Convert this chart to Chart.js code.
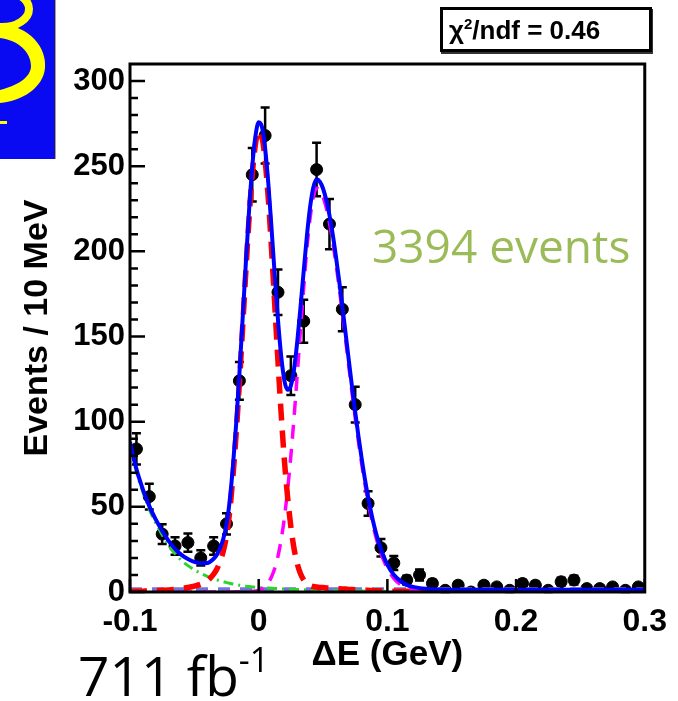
<!DOCTYPE html>
<html>
<head>
<meta charset="utf-8">
<title>ΔE fit</title>
<script src="https://cdn.jsdelivr.net/npm/chart.js@4.4.1/dist/chart.umd.min.js"></script>
<style>
  html, body { margin: 0; padding: 0; background: #fff; }
  #wrap { position: relative; width: 678px; height: 701px; overflow: hidden; }
  #plot { position: absolute; left: 0; top: 0; }
  .logo { position: absolute; left: 0; top: 0; }
  .chi2 {
    position: absolute; left: 440px; top: 7px; width: 200px; height: 39px;
    border: 3px solid #000; background: #fff; box-shadow: 1px 2px 0 #333;
    font: bold 26px "Liberation Sans", Arial, sans-serif; line-height: 40px;
    padding-left: 6px; box-sizing: content-box; white-space: nowrap;
  }
  .chi2 sup { font-size: 15px; line-height: 0; }
  .events {
    position: absolute; left: 372px; top: 222px; color: #9bbb59;
    font: 46px "Open Sans", sans-serif; line-height: 46px; white-space: nowrap;
  }
  .lumi {
    position: absolute; left: 78px; top: 647px; color: #000;
    font: 55px "Open Sans", sans-serif; line-height: 55px; white-space: nowrap;
  }
  .lumi sup { font-size: 34px; line-height: 0; vertical-align: 24px; }
</style>
</head>
<body>
<div id="wrap">
  <canvas id="plot" width="678" height="701"></canvas>
  <svg class="logo" width="58" height="162">
    <rect x="0" y="0" width="55" height="159" fill="#0a0af2"/>
    <line x1="55.5" y1="0" x2="55.5" y2="159" stroke="#b8a830" stroke-width="1"/>
    <ellipse cx="2" cy="9" rx="27" ry="18" fill="none" stroke="#ffff00" stroke-width="8"/>
    <path d="M0 24 C 30 26, 47 48, 45 68 C 43 88, 22 101, 0 103 L 0 90 C 16 86, 31 78, 31 66 C 31 52, 18 40, 0 38 Z" fill="#ffff00"/>
    <rect x="0" y="121" width="7" height="3" fill="#ffff00"/>
  </svg>
  <div class="chi2">χ<sup>2</sup>/ndf = 0.46</div>
  <div class="events">3394 events</div>
  <div class="lumi">711 fb<sup>-1</sup></div>
</div>
<script>
// 10 MeV bins of ΔE, counts per bin and their errors
const binCenters = [-0.095, -0.085, -0.075, -0.065, -0.055, -0.045, -0.035, -0.025, -0.015, -0.005,
  0.005, 0.015, 0.025, 0.035, 0.045, 0.055, 0.065, 0.075, 0.085, 0.095,
  0.105, 0.115, 0.125, 0.135, 0.145, 0.155, 0.165, 0.175, 0.185, 0.195,
  0.205, 0.215, 0.225, 0.235, 0.245, 0.255, 0.265, 0.275, 0.285, 0.295];
const counts = [84, 56, 34, 27, 29, 20, 27, 40, 124, 245,
  268, 176, 127, 159, 248, 216, 166, 110, 52, 26,
  17, 7, 10, 5, 1, 4, 0, 4, 3, 1,
  5, 4, 1, 6, 7, 2, 2, 3, 1, 3];
const countErrors = [9.2, 7.5, 5.8, 5.2, 5.4, 4.5, 5.2, 6.3, 11.1, 15.7,
  16.4, 13.3, 11.3, 12.6, 15.7, 14.7, 12.9, 10.5, 7.2, 5.1,
  4.1, 2.6, 3.2, 2.2, 1, 2, 0, 2, 1.7, 1,
  2.2, 2, 1, 2.4, 2.6, 1.4, 1.4, 1.7, 1, 1.7];

// fit curves sampled along ΔE
const fitX = [-0.1, -0.095, -0.09, -0.085, -0.08, -0.075, -0.07, -0.065, -0.06, -0.055, -0.05, -0.045, -0.04, -0.035,
  -0.0325, -0.03, -0.0275, -0.025, -0.0225, -0.02, -0.0175, -0.015, -0.0125, -0.01, -0.0075, -0.005, -0.0025, 0,
  0.0025, 0.005, 0.0075, 0.01, 0.0125, 0.015, 0.0175, 0.02, 0.0225, 0.025, 0.0275, 0.03, 0.0325, 0.035, 0.0375, 0.04,
  0.0425, 0.045, 0.0475, 0.05, 0.0525, 0.055, 0.0575, 0.06, 0.0625, 0.065, 0.0675, 0.07, 0.0725, 0.075, 0.0775, 0.08,
  0.0825, 0.085, 0.0875, 0.09, 0.0925, 0.095, 0.0975, 0.1,
  0.105, 0.11, 0.115, 0.12, 0.13, 0.14, 0.16, 0.2, 0.25, 0.3];
const fitTotal = [88.1, 72.2, 60.3, 50.4, 42.6, 35.8, 30.0, 25.3, 21.8, 19.4, 17.7, 16.9, 17.0, 19.5,
  21.9, 25.8, 31.3, 39.8, 53.9, 74.0, 98.7, 127.9, 160.2, 192.9, 223.8, 249.7, 267.7, 275.8,
  273.1, 260.5, 239.6, 213.4, 185.7, 159.7, 138.4, 124.0, 118.7, 121.1, 131.0, 147.2, 167.4, 188.7, 209.4, 226.3,
  237.6, 242.3, 240.9, 236.9, 230.2, 221.2, 210.2, 197.1, 182.9, 167.8, 152.1, 136.2, 120.7, 105.7, 91.6, 78.5,
  66.4, 55.8, 46.3, 38.0, 31.0, 25.1, 20.2, 16.0,
  10.1, 6.5, 4.2, 3.0, 1.9, 1.5, 1.3, 1.3, 1.3, 1.3];
const peakA = [0.3, 0.4, 0.5, 0.6, 0.8, 1.0, 1.2, 1.5, 2.0, 2.6, 3.4, 4.6, 6.5, 10.5,
  13.5, 18, 24, 33, 47.5, 68, 93, 122.5, 155, 188, 219, 245, 263, 270.8,
  267.4, 253.5, 230.5, 201, 168.4, 135.3, 104.3, 77.1, 55.5, 38.3, 25.4, 16.5, 10.7, 7.1, 4.9, 3.8,
  3.2, 2.9, 2.7, 2.6, 2.4, 2.3, 2.2, 2.0, 1.9, 1.8, 1.7, 1.5, 1.4, 1.3, 1.2, 1.1,
  1.0, 1.0, 0.9, 0.8, 0.8, 0.7, 0.7, 0.6,
  0.5, 0.5, 0.4, 0.3, 0.2, 0.1, 0, 0, 0, 0];
const peakB = [0, 0, 0, 0, 0, 0, 0, 0, 0, 0, 0, 0, 0, 0,
  0, 0, 0, 0, 0, 0, 0.1, 0.1, 0.2, 0.2, 0.3, 0.4, 0.6, 1.1,
  1.9, 3.3, 5.5, 8.9, 13.9, 21.1, 30.9, 43.8, 60.2, 79.9, 102.8, 128, 154, 179, 202, 220,
  232, 237, 235.9, 232, 225.6, 216.7, 205.8, 193, 178.9, 163.9, 148.4, 132.7, 117.3, 102.5, 88.5, 75.5,
  63.6, 53, 43.6, 35.5, 28.5, 22.7, 17.8, 13.8,
  8, 4.4, 2.3, 1.2, 0.3, 0, 0, 0, 0, 0];
const bkgPeaking = [86.5, 70.5, 58.5, 48.5, 40.5, 33.5, 27.5, 22.5, 18.5, 15.5, 13, 11, 9.2, 7.7,
  7.1, 6.5, 6, 5.5, 5.1, 4.7, 4.3, 4, 3.7, 3.4, 3.2, 3, 2.8, 2.6,
  2.5, 2.4, 2.3, 2.2, 2.1, 2, 1.9, 1.8, 1.7, 1.6, 1.5, 1.4, 1.4, 1.3, 1.2, 1.2,
  1.1, 1.1, 1, 1, 0.9, 0.9, 0.9, 0.8, 0.8, 0.8, 0.7, 0.7, 0.7, 0.6, 0.6, 0.6,
  0.5, 0.5, 0.5, 0.4, 0.4, 0.4, 0.4, 0.3,
  0.3, 0.3, 0.2, 0.2, 0.1, 0.1, 0, 0, 0, 0];
const flatX = [-0.1, 0.3];
const bkgFlat = [1.6, 1.6];

const xTicks = [-0.1, 0, 0.1, 0.2, 0.3];
const yTicks = [0, 50, 100, 150, 200, 250, 300];
const yMinorTicks = [10, 20, 30, 40, 60, 70, 80, 90, 110, 120, 130, 140, 160, 170, 180, 190,
  210, 220, 230, 240, 260, 270, 280, 290];

const axisFont = '"Liberation Sans", Arial, Helvetica, sans-serif';
const pairs = (xs, ys) => xs.map((x, i) => ({ x: x, y: ys[i] }));

const fitLine = (label, ys, color, width, dash, order) => ({
  type: 'line',
  label: label,
  data: pairs(fitX, ys),
  borderColor: color,
  borderWidth: width,
  borderDash: dash,
  pointRadius: 0,
  cubicInterpolationMode: 'monotone',
  fill: false,
  order: order
});

// error bars under the markers
const errorBars = {
  id: 'errorBars',
  beforeDatasetsDraw(chart) {
    const { ctx, scales: { x, y } } = chart;
    ctx.save();
    ctx.strokeStyle = '#000';
    ctx.lineWidth = 2.5;
    counts.forEach((n, i) => {
      const err = countErrors[i];
      if (!err) return;
      const px = x.getPixelForValue(binCenters[i]);
      const top = y.getPixelForValue(n + err);
      const bot = y.getPixelForValue(Math.max(n - err, 0));
      ctx.beginPath();
      ctx.moveTo(px, top); ctx.lineTo(px, bot);
      ctx.moveTo(px - 4.5, top); ctx.lineTo(px + 4.5, top);
      ctx.moveTo(px - 4.5, bot); ctx.lineTo(px + 4.5, bot);
      ctx.stroke();
    });
    ctx.restore();
  }
};

// frame and inward tick marks
const frame = {
  id: 'frame',
  afterDraw(chart) {
    const { ctx, chartArea: a, scales: { x, y } } = chart;
    ctx.save();
    ctx.strokeStyle = '#000';
    ctx.lineWidth = 3;
    ctx.strokeRect(a.left, a.top, a.right - a.left, a.bottom - a.top);
    ctx.lineWidth = 2.5;
    ctx.beginPath();
    yTicks.forEach(v => {
      const py = y.getPixelForValue(v);
      ctx.moveTo(a.left, py); ctx.lineTo(a.left + 15, py);
    });
    yMinorTicks.forEach(v => {
      const py = y.getPixelForValue(v);
      ctx.moveTo(a.left, py); ctx.lineTo(a.left + 8, py);
    });
    xTicks.forEach(v => {
      const px = x.getPixelForValue(v);
      ctx.moveTo(px, a.bottom); ctx.lineTo(px, a.bottom - 13);
    });
    ctx.stroke();
    ctx.restore();
  }
};

const chart = new Chart(document.getElementById('plot'), {
  data: {
    datasets: [
      {
        type: 'scatter',
        label: 'Data',
        data: pairs(binCenters, counts),
        backgroundColor: '#000',
        borderColor: '#000',
        pointRadius: 6,
        pointHoverRadius: 6,
        order: 10
      },
      {
        type: 'line',
        label: 'Combinatorial',
        data: pairs(flatX, bkgFlat),
        borderColor: '#7474e0',
        borderWidth: 4,
        borderDash: [12, 10],
        pointRadius: 0,
        fill: false,
        order: 6
      },
      fitLine('Peaking background', bkgPeaking, '#2bd62b', 3, [10, 5, 2, 5], 5),
      fitLine('Signal 2', peakB, '#ff00ff', 3.5, [14, 10], 4),
      fitLine('Signal 1', peakA, '#ff0000', 5.5, [17, 10], 3),
      fitLine('Total', fitTotal, '#0000ff', 4, [], 1)
    ]
  },
  options: {
    responsive: false,
    animation: false,
    events: [],
    layout: { padding: { left: 0, top: 64, right: 25, bottom: 0 } },
    plugins: { legend: { display: false }, tooltip: { enabled: false } },
    scales: {
      x: {
        type: 'linear',
        min: -0.1,
        max: 0.3,
        afterBuildTicks: scale => { scale.ticks = xTicks.map(v => ({ value: v })); },
        afterFit: scale => { scale.height = 109; },
        grid: { display: false, drawTicks: false },
        border: { display: false },
        ticks: {
          padding: 11,
          color: '#000',
          font: { family: axisFont, size: 32, weight: 'bold' },
          callback: v => String(v)
        },
        title: {
          display: true,
          text: 'ΔE (GeV)',
          color: '#000',
          font: { family: axisFont, size: 35, weight: 'bold' },
          padding: { top: 0, bottom: 25 }
        }
      },
      y: {
        type: 'linear',
        min: 0,
        max: 310,
        afterBuildTicks: scale => { scale.ticks = yTicks.map(v => ({ value: v })); },
        afterFit: scale => { scale.width = 130; },
        grid: { display: false, drawTicks: false },
        border: { display: false },
        ticks: {
          padding: 5,
          color: '#000',
          font: { family: axisFont, size: 31, weight: 'bold' },
          callback: v => String(v)
        },
        title: {
          display: true,
          text: 'Events / 10 MeV',
          color: '#000',
          font: { family: axisFont, size: 34, weight: 'bold' },
          padding: { top: 17, bottom: 0 }
        }
      }
    }
  },
  plugins: [errorBars, frame]
});
</script>
</body>
</html>
